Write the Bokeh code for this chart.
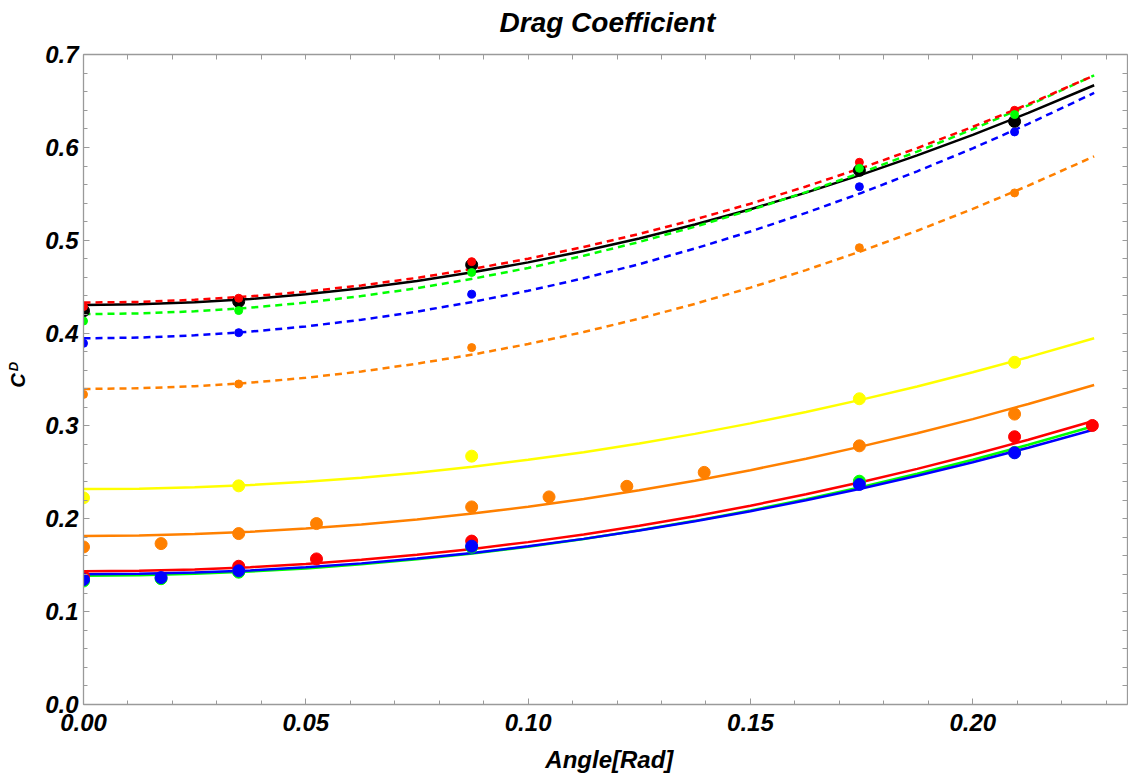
from bokeh.plotting import figure
from bokeh.layouts import row, column
from bokeh.models import Range1d, LinearAxis, SingleIntervalTicker, FixedTicker, PrintfTickFormatter
from bokeh.core.properties import value
from bokeh.embed import file_html
from bokeh.resources import INLINE
import math

# ---------------- data ----------------
# fitted curves, read at these angles [rad]
x_fit = [0.0, 0.0125, 0.025, 0.0375, 0.05, 0.0625, 0.075, 0.0875, 0.1, 0.1125,
         0.125, 0.1375, 0.15, 0.1625, 0.175, 0.1875, 0.2, 0.2125, 0.2273]
fit_black = [0.4304, 0.4311, 0.4333, 0.4368, 0.4419, 0.4483, 0.4562, 0.4655, 0.4762, 0.4884,
             0.5020, 0.5170, 0.5335, 0.5513, 0.5707, 0.5914, 0.6136, 0.6372, 0.6670]
fit_red_dash = [0.4329, 0.4336, 0.4359, 0.4396, 0.4447, 0.4514, 0.4595, 0.4691, 0.4802, 0.4928,
                0.5069, 0.5224, 0.5394, 0.5579, 0.5779, 0.5993, 0.6222, 0.6466, 0.6775]
fit_green_dash = [0.4204, 0.4212, 0.4235, 0.4274, 0.4329, 0.4399, 0.4484, 0.4585, 0.4702, 0.4834,
                  0.4982, 0.5146, 0.5325, 0.5519, 0.5729, 0.5955, 0.6196, 0.6453, 0.6777]
fit_blue_dash = [0.3944, 0.3952, 0.3976, 0.4016, 0.4072, 0.4144, 0.4232, 0.4336, 0.4456, 0.4591,
                 0.4743, 0.4911, 0.5095, 0.5295, 0.5511, 0.5743, 0.5990, 0.6254, 0.6587]
fit_orange_dash = [0.3398, 0.3406, 0.3428, 0.3466, 0.3519, 0.3587, 0.3671, 0.3769, 0.3883, 0.4012,
                   0.4156, 0.4315, 0.4490, 0.4679, 0.4884, 0.5103, 0.5338, 0.5589, 0.5904]
fit_yellow = [0.2320, 0.2325, 0.2340, 0.2364, 0.2399, 0.2443, 0.2497, 0.2561, 0.2635, 0.2718,
              0.2812, 0.2915, 0.3028, 0.3151, 0.3284, 0.3426, 0.3578, 0.3741, 0.3945]
fit_orange = [0.1816, 0.1821, 0.1836, 0.1860, 0.1895, 0.1939, 0.1993, 0.2057, 0.2131, 0.2214,
              0.2308, 0.2411, 0.2524, 0.2647, 0.2780, 0.2922, 0.3074, 0.3237, 0.3441]
fit_red = [0.1435, 0.1440, 0.1455, 0.1479, 0.1514, 0.1558, 0.1612, 0.1675, 0.1749, 0.1832,
           0.1925, 0.2028, 0.2141, 0.2264, 0.2396, 0.2538, 0.2690, 0.2852, 0.3056]
fit_green = [0.1388, 0.1393, 0.1408, 0.1432, 0.1466, 0.1510, 0.1564, 0.1627, 0.1700, 0.1783,
             0.1876, 0.1978, 0.2090, 0.2212, 0.2344, 0.2485, 0.2636, 0.2797, 0.3000]
fit_blue = [0.1402, 0.1407, 0.1421, 0.1444, 0.1478, 0.1520, 0.1572, 0.1633, 0.1704, 0.1784,
            0.1874, 0.1973, 0.2082, 0.2199, 0.2327, 0.2464, 0.2610, 0.2766, 0.2962]

# measured points
x_upper = [0.0, 0.0349, 0.0873, 0.1745, 0.2094]
y_black = [0.4240, 0.4340, 0.4736, 0.5753, 0.6280]
y_red_small = [0.4286, 0.4376, 0.4770, 0.5840, 0.6400]
y_green_small = [0.4130, 0.4243, 0.4653, 0.5775, 0.6354]
y_blue_small = [0.3890, 0.4005, 0.4420, 0.5577, 0.6167]
y_orange_small = [0.3340, 0.3452, 0.3844, 0.4920, 0.5510]

x_yellow = [0.0, 0.0349, 0.0873, 0.1745, 0.2094]
y_yellow = [0.2226, 0.2355, 0.2675, 0.3293, 0.3686]
x_orange = [0.0, 0.01745, 0.0349, 0.0524, 0.0873, 0.1047, 0.1222, 0.1396, 0.1745, 0.2094]
y_orange = [0.1697, 0.1733, 0.1841, 0.1949, 0.2128, 0.2236, 0.2350, 0.2500, 0.2786, 0.3128]
x_red = [0.0, 0.0349, 0.0524, 0.0873, 0.2094, 0.2269]
y_red = [0.1380, 0.1489, 0.1568, 0.1760, 0.2884, 0.3005]
x_green = [0.0, 0.01745, 0.0349, 0.0873, 0.1745, 0.2094]
y_green = [0.1330, 0.1355, 0.1425, 0.1695, 0.2405, 0.2715]
x_blue = [0.0, 0.01745, 0.0349, 0.0873, 0.1745, 0.2094]
y_blue = [0.1345, 0.1367, 0.1440, 0.1705, 0.2370, 0.2711]

x_tick_interval = 0.05
y_tick_interval = 0.1
x_frame_ticks = [round(0.01 * i, 2) for i in range(24)]
y_frame_ticks = [round(0.02 * i, 2) for i in range(36)]

title_text = "Drag Coefficient"
x_label = "Angle[Rad]"
y_label_main = "C"
y_label_sub = "D"

# ---------------- style ----------------
RED = "#FF0000"
GREEN = "#00FF00"
BLUE = "#0000FF"
YELLOW = "#FFFF00"
ORANGE = "#FF8000"
BLACK = "#000000"
FRAME = "#9a9a9a"
FONT = "Liberation Sans"
DASH = "7 5"
LW = 2.5

W, H = 1128, 774
LAB_W = 42          # left strip holding the y-axis label
TOP_H = 40          # top strip holding the title
BOT_H = 30          # bottom strip holding the x-axis label
MAIN_W = W - LAB_W
MAIN_H = H - TOP_H - BOT_H


def strip(w, h):
    f = figure(width=w, height=h, output_backend="svg", toolbar_location=None,
               x_range=Range1d(0, w), y_range=Range1d(0, h),
               x_axis_type=None, y_axis_type=None,
               min_border=0, min_border_left=0, min_border_right=0,
               min_border_top=0, min_border_bottom=0)
    f.outline_line_color = None
    f.background_fill_color = "white"
    f.border_fill_color = "white"
    return f


p = figure(width=MAIN_W, height=MAIN_H, output_backend="svg", toolbar_location=None,
           x_range=Range1d(0, 0.2348), y_range=Range1d(0, 0.7001),
           x_axis_type=None, y_axis_type=None,
           min_border_left=82 - LAB_W, min_border_right=1,
           min_border_top=54 - TOP_H, min_border_bottom=(TOP_H + MAIN_H) - 704)
p.outline_line_color = None
p.background_fill_color = "white"
p.border_fill_color = "white"


def style_axis(ax):
    ax.axis_line_color = FRAME
    ax.axis_line_width = 1.3
    ax.major_tick_line_color = FRAME
    ax.minor_tick_line_color = FRAME
    ax.major_tick_in = 6
    ax.major_tick_out = 0
    ax.minor_tick_in = 4
    ax.minor_tick_out = 0
    ax.major_label_text_font = FONT
    ax.major_label_text_font_style = "bold italic"
    ax.major_label_text_color = "black"
    ax.major_label_text_font_size = "24px"
    return ax


xb = style_axis(LinearAxis(ticker=SingleIntervalTicker(interval=x_tick_interval, num_minor_ticks=5),
                           formatter=PrintfTickFormatter(format="%.2f")))
xb.major_label_standoff = 9
yl = style_axis(LinearAxis(ticker=SingleIntervalTicker(interval=y_tick_interval, num_minor_ticks=5),
                           formatter=PrintfTickFormatter(format="%.1f")))
yl.major_label_standoff = 5
xt = style_axis(LinearAxis(ticker=FixedTicker(ticks=[], minor_ticks=x_frame_ticks)))
xt.minor_tick_in = 5
yr = style_axis(LinearAxis(ticker=FixedTicker(ticks=[], minor_ticks=y_frame_ticks)))
yr.minor_tick_in = 5

p.add_layout(xb, "below")
p.add_layout(yl, "left")
p.add_layout(xt, "above")
p.add_layout(yr, "right")

# fitted curves
p.line(x_fit, fit_black, line_color=BLACK, line_width=LW)
p.line(x_fit, fit_orange_dash, line_color=ORANGE, line_width=LW, line_dash=DASH)
p.line(x_fit, fit_blue_dash, line_color=BLUE, line_width=LW, line_dash=DASH)
p.line(x_fit, fit_green_dash, line_color=GREEN, line_width=LW, line_dash=DASH)
p.line(x_fit, fit_red_dash, line_color=RED, line_width=LW, line_dash=DASH)
p.line(x_fit, fit_yellow, line_color=YELLOW, line_width=LW)
p.line(x_fit, fit_orange, line_color=ORANGE, line_width=LW)
p.line(x_fit, fit_red, line_color=RED, line_width=LW)
p.line(x_fit, fit_green, line_color=GREEN, line_width=LW)
p.line(x_fit, fit_blue, line_color=BLUE, line_width=LW)

# points
BIG = 12
SMALL = 8
p.scatter(x_upper, y_black, size=BIG, color=BLACK)
p.scatter(x_upper, y_orange_small, size=SMALL, color=ORANGE)
p.scatter(x_upper, y_blue_small, size=SMALL, color=BLUE)
p.scatter(x_upper, y_red_small, size=SMALL, color=RED)
p.scatter(x_upper, y_green_small, size=SMALL, color=GREEN)
p.scatter(x_yellow, y_yellow, size=BIG, color=YELLOW)
p.scatter(x_orange, y_orange, size=BIG, color=ORANGE)
p.scatter(x_red, y_red, size=BIG, color=RED)
p.scatter(x_green, y_green, size=BIG, color=GREEN)
p.scatter(x_blue, y_blue, size=BIG, color=BLUE)

TXT = dict(text_font=value(FONT), text_font_style="bold italic", text_color="black",
           text_align="center", text_baseline="middle")

# title strip
top = strip(MAIN_W, TOP_H)
top.text(x=[545], y=[18], text=[title_text], text_font_size="28px", **TXT)

# x label strip
bot = strip(MAIN_W, BOT_H)
bot.text(x=[547], y=[15], text=[x_label], text_font_size="24px", **TXT)

# y label strip (C with subscript D)
lab = strip(LAB_W, H)
lab.text(x=[17], y=[394], text=[y_label_main], angle=math.pi / 2, text_font_size="20px", **TXT)
lab.text(x=[13], y=[408], text=[y_label_sub], angle=math.pi / 2, text_font_size="13px", **TXT)

layout = row(lab, column(top, p, bot, spacing=0), spacing=0)
open("out.html", "w").write(file_html(layout, INLINE))
